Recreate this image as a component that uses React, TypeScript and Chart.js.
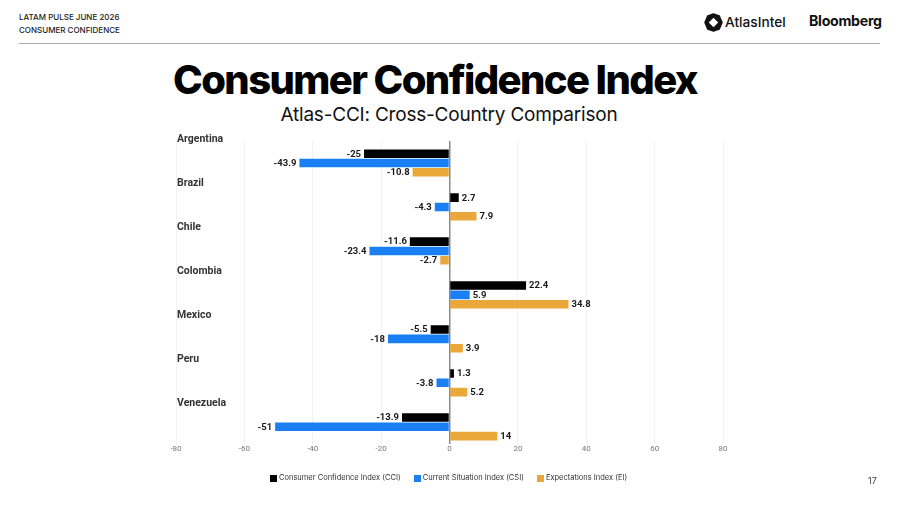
import React, { useEffect, useRef } from "react";
import { Chart, registerables } from "chart.js";

Chart.register(...registerables);

const countries = ["Argentina", "Brazil", "Chile", "Colombia", "Mexico", "Peru", "Venezuela"];
const cciValues = [-25, 2.7, -11.6, 22.4, -5.5, 1.3, -13.9];
const csiValues = [-43.9, -4.3, -23.4, 5.9, -18, -3.8, -51];
const eiValues = [-10.8, 7.9, -2.7, 34.8, 3.9, 5.2, 14];
const seriesNames = ["Consumer Confidence Index (CCI)", "Current Situation Index (CSI)", "Expectations Index (EI)"];
const seriesColors = ["#000000", "#1a7ff2", "#eaa83a"];
const xMin = -80;
const xMax = 80;
const xStep = 20;

const valueLabelPlugin = {
  id: "valueLabels",
  afterDatasetsDraw(chart: any) {
    const ctx = chart.ctx;
    ctx.save();
    ctx.font = "bold 9.5px Roboto, 'Liberation Sans', sans-serif";
    ctx.fillStyle = "#1a1a1a";
    ctx.textBaseline = "middle";
    chart.data.datasets.forEach((ds: any, di: number) => {
      const meta = chart.getDatasetMeta(di);
      meta.data.forEach((bar: any, i: number) => {
        const v = ds.data[i].x;
        const neg = v < 0;
        ctx.textAlign = neg ? "right" : "left";
        ctx.fillText(String(v), bar.x + (neg ? -3 : 3), bar.y + 0.5);
      });
    });
    ctx.restore();
  },
};

const countryLabelPlugin = {
  id: "countryLabels",
  afterDraw(chart: any) {
    const ctx = chart.ctx;
    const y = chart.scales.y;
    ctx.save();
    ctx.font = "bold 10.5px Roboto, 'Liberation Sans', sans-serif";
    ctx.fillStyle = "#333333";
    ctx.textAlign = "left";
    ctx.textBaseline = "middle";
    countries.forEach((lab: string, i: number) => {
      ctx.fillText(lab, 177, y.getPixelForValue(i - 0.5) - 1.5);
    });
    ctx.restore();
  },
};

export default function App() {
  const ref = useRef<HTMLCanvasElement | null>(null);
  useEffect(() => {
    if (!ref.current) return;
    const data = [cciValues, csiValues, eiValues];
    const chart = new Chart(ref.current, {
      type: "bar",
      data: {
        datasets: data.map((d, i) => ({
          label: seriesNames[i],
          data: d.map((v, j) => ({ x: v, y: j })),
          backgroundColor: seriesColors[i],
          borderWidth: 0,
          categoryPercentage: 0.635,
          barPercentage: 0.92,
        })),
      },
      options: {
        indexAxis: "y",
        animation: false,
        responsive: false,
        maintainAspectRatio: false,
        layout: { padding: { left: 176, right: 177, top: 141, bottom: 52 } },
        plugins: {
          legend: { display: false },
          tooltip: { enabled: false },
        },
        scales: {
          x: {
            type: "linear",
            min: xMin,
            max: xMax,
            ticks: {
              stepSize: xStep,
              color: "#777",
              font: { size: 8, family: "Roboto, 'Liberation Sans', sans-serif" },
              padding: 0,
            },
            border: { display: false },
            grid: {
              drawTicks: false,
              color: (c: any) => (c.tick && c.tick.value === 0 ? "#8a8a8a" : "#f2f2f2"),
              lineWidth: (c: any) => (c.tick && c.tick.value === 0 ? 1.5 : 1),
            },
          },
          y: {
            type: "linear",
            reverse: true,
            min: -0.5,
            max: 6.4,
            bounds: "data",
            offset: false,
            grace: 0,
            grid: { offset: false },
            display: false,
            afterBuildTicks: (s: any) => {
              s.ticks = countries.map((_, i) => ({ value: i }));
            },
          },
        },
      },
      plugins: [valueLabelPlugin, countryLabelPlugin],
    });
    return () => chart.destroy();
  }, []);

  const font = "Inter, 'Noto Sans', sans-serif";
  return (
    <div style={{ position: "fixed", left: 0, top: 0, width: 900, height: 506, background: "#fff", overflow: "hidden", fontFamily: font }}>
      <div style={{ position: "absolute", left: 19, top: 11, fontSize: 8, fontWeight: 500, color: "#222", lineHeight: "13px" }}>
        <div>LATAM PULSE JUNE 2026</div>
        <div>CONSUMER CONFIDENCE</div>
      </div>
      <div style={{ position: "absolute", left: 19, top: 43, width: 861, height: 1, background: "#aaa" }} />
      <svg style={{ position: "absolute", left: 704, top: 13 }} width="19" height="19" viewBox="0 0 20 20">
        <path d="M10 1 L16 3 L19 10 L16 17 L10 19 L4 17 L1 10 L4 3 Z" fill="#111" stroke="#111" strokeWidth="1.5" strokeLinejoin="round" />
        <path d="M10 5 L15 10 L10 15 L5 10 Z" fill="#fff" />
      </svg>
      <div style={{ position: "absolute", left: 725, top: 13, fontSize: 13.7, fontWeight: 500, color: "#111", lineHeight: "18px" }}>AtlasIntel</div>
      <div style={{ position: "absolute", left: 809, top: 12, fontSize: 14.2, fontWeight: 700, color: "#111", lineHeight: "18px", letterSpacing: -0.3 }}>Bloomberg</div>
      <div style={{ position: "absolute", left: 0, width: 870, top: 56, textAlign: "center", fontSize: 40, fontWeight: 800, color: "#000", letterSpacing: -1.6, lineHeight: "48px" }}>
        Consumer Confidence Index
      </div>
      <div style={{ position: "absolute", left: 0, width: 898, top: 103, textAlign: "center", fontSize: 19, fontWeight: 400, color: "#111", lineHeight: "24px", letterSpacing: -0.2 }}>
        Atlas-CCI: Cross-Country Comparison
      </div>
      <canvas ref={ref} width={900} height={506} style={{ position: "absolute", left: 0, top: 0, width: 900, height: 506 }} />
      <div style={{ position: "absolute", left: 270, top: 473, display: "flex", alignItems: "center", fontSize: 7.5, color: "#333", lineHeight: "10px" }}>
        {seriesNames.map((n, i) => (
          <div key={n} style={{ display: "flex", alignItems: "center", marginRight: 13 }}>
            <span style={{ display: "inline-block", width: 7, height: 7, background: seriesColors[i], marginRight: 2 }} />
            <span>{n}</span>
          </div>
        ))}
      </div>
      <div style={{ position: "absolute", left: 868, top: 475, fontSize: 9, color: "#444" }}>17</div>
    </div>
  );
}
